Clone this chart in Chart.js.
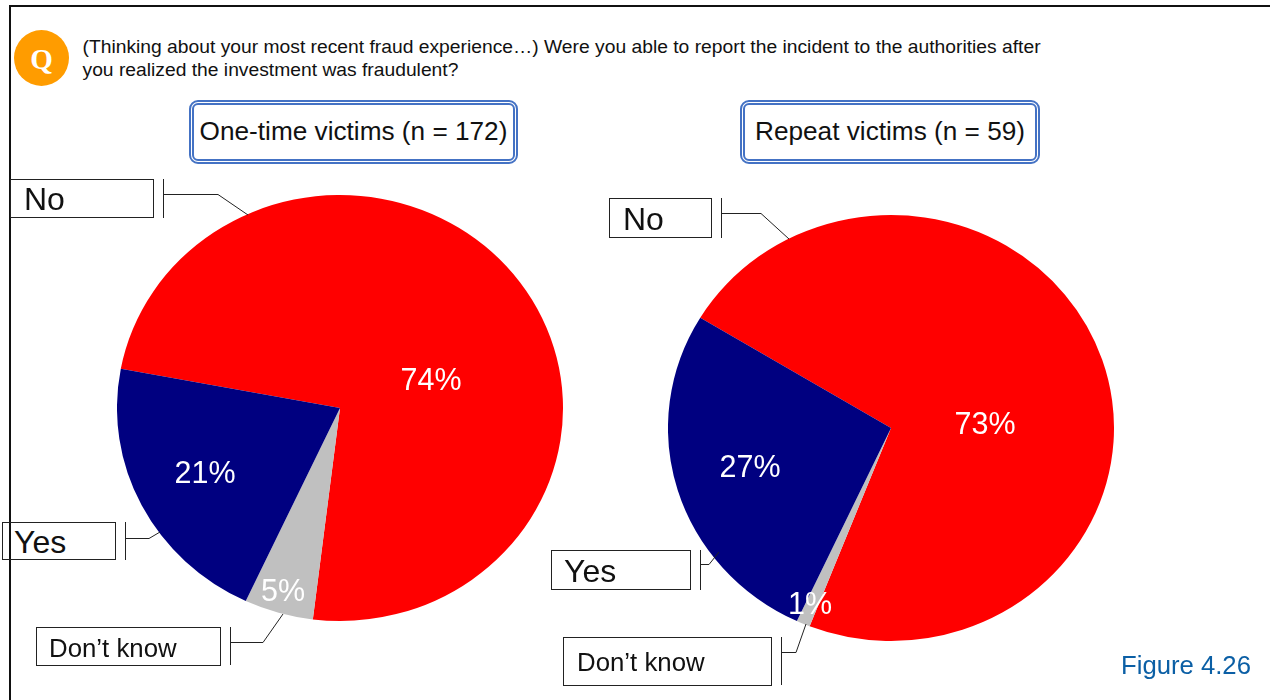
<!DOCTYPE html>
<html>
<head>
<meta charset="utf-8">
<script src="https://cdn.jsdelivr.net/npm/chart.js@4"></script>
<style>
    html, body { margin: 0; padding: 0; background: #fff; }
    body { position: relative; width: 1270px; height: 700px; overflow: hidden; font-family: "Liberation Sans", Arial, sans-serif; color: #111; }
    canvas { position: absolute; }
    .frame-top { position: absolute; left: 9px; top: 5px; width: 1261px; height: 2px; background: #111; }
    .frame-left { position: absolute; left: 9px; top: 5px; width: 2px; height: 695px; background: #111; }
    .q-badge { position: absolute; left: 14px; top: 30px; width: 55px; height: 56px; border-radius: 50%; background: #ff9c00; color: #fff; font: bold 29px/58px "Liberation Serif", serif; text-align: center; }
    .question { position: absolute; left: 82.5px; top: 35px; width: 1100px; font-size: 19.28px; line-height: 23px; }
    .group-title { position: absolute; top: 100px; height: 64px; box-sizing: border-box; border: 5px double #4472c4; border-radius: 9px; font-size: 26.2px; line-height: 53px; text-align: center; white-space: nowrap; }
    .tag { position: absolute; box-sizing: border-box; border: 1px solid #222; white-space: nowrap; }
    #leaders { position: absolute; left: 0; top: 0; }
    .figure-no { position: absolute; left: 1121px; top: 651px; font-size: 25.7px; color: #0b5fa5; }
</style>
</head>
<body>
<div class="frame-top"></div>
<div class="frame-left"></div>
<div class="q-badge">Q</div>
<div class="question">(Thinking about your most recent fraud experience…) Were you able to report the incident to the authorities after<br>you realized the investment was fraudulent?</div>

<div class="group-title" style="left:189px;width:329px">One-time victims (n = 172)</div>
<div class="group-title" style="left:740px;width:300px">Repeat victims (n = 59)</div>

<canvas id="oneTimePie" width="446" height="446" style="left:117px;top:185px"></canvas>
<canvas id="repeatPie" width="446" height="446" style="left:668px;top:205px"></canvas>

<div class="tag" style="left:10px;top:179px;width:144px;height:39px;font-size:32px;line-height:38px;padding-left:13px">No</div>
<div class="tag" style="left:2px;top:522px;width:114px;height:38px;font-size:32px;line-height:38px;padding-left:11px">Yes</div>
<div class="tag" style="left:36px;top:627px;width:185px;height:39px;font-size:25.8px;line-height:40px;padding-left:12px">Don’t know</div>
<div class="tag" style="left:609px;top:198px;width:103px;height:40px;font-size:32px;line-height:40px;padding-left:13px">No</div>
<div class="tag" style="left:551px;top:550px;width:140px;height:40px;font-size:32px;line-height:40px;padding-left:12px">Yes</div>
<div class="tag" style="left:563px;top:637px;width:209px;height:49px;font-size:25.8px;line-height:49px;padding-left:13px">Don’t know</div>

<svg id="leaders" width="1270" height="700" fill="none" stroke="#222" stroke-width="1">
    <path d="M163.5 179V218M163.5 194.5H218L248 215"/>
    <path d="M125.5 522V560M125.5 538.5H149L160 532"/>
    <path d="M230.5 627V665M230.5 642.5H263L283 614"/>
    <path d="M721.5 198V238M721.5 213.5H761L789 239"/>
    <path d="M700.5 550V590M700.5 564.5H709L719 552"/>
    <path d="M781.5 637V685M781.5 652.5H796L806 624"/>
</svg>

<div class="figure-no">Figure 4.26</div>

<script>
// Chart data
const categories = ['No', "Don't know", 'Yes'];
const oneTimeValues = [74, 5, 21];
const repeatValues = [73, 1, 27];
const sliceColors = ['#ff0000', '#c0c0c0', '#000080'];

const pieSquash = 213 / 223;   // the pies are a little wider than tall

// squash the arcs around the middle of the chart
const squashPlugin = {
    id: 'squash',
    beforeDatasetsDraw(chart) {
        const ctx = chart.ctx;
        const cy = (chart.chartArea.top + chart.chartArea.bottom) / 2;
        ctx.save();
        ctx.translate(0, cy);
        ctx.scale(1, pieSquash);
        ctx.translate(0, -cy);
    },
    afterDatasetsDraw(chart) {
        chart.ctx.restore();
    }
};

// percent labels, offsets are from the pie centre
const percentLabels = {
    id: 'percentLabels',
    afterDraw(chart, args, opts) {
        const ctx = chart.ctx;
        const cx = (chart.chartArea.left + chart.chartArea.right) / 2;
        const cy = (chart.chartArea.top + chart.chartArea.bottom) / 2;
        ctx.save();
        ctx.font = '30.5px "Liberation Sans", Arial, sans-serif';
        ctx.fillStyle = '#fff';
        ctx.textAlign = 'center';
        ctx.textBaseline = 'middle';
        chart.data.datasets[0].data.forEach((v, i) => {
            ctx.fillText(v + '%', cx + opts.offsets[i][0], cy + opts.offsets[i][1]);
        });
        ctx.restore();
    }
};

function makePie(id, values, rotation, offsets) {
    return new Chart(document.getElementById(id), {
        type: 'pie',
        data: {
            labels: categories,
            datasets: [{
                data: values,
                backgroundColor: sliceColors,
                borderWidth: 0
            }]
        },
        options: {
            responsive: false,
            animation: false,
            events: [],
            rotation: rotation,
            layout: { padding: 0 },
            plugins: {
                legend: { display: false },
                tooltip: { enabled: false },
                percentLabels: { offsets: offsets }
            }
        },
        plugins: [squashPlugin, percentLabels]
    });
}

makePie('oneTimePie', oneTimeValues, 280.6, [[91, -26], [-57, 185], [-135, 67]]);
makePie('repeatPie', repeatValues, 301.2, [[94, -2], [-81, 178], [-141, 41]]);
</script>
</body>
</html>
